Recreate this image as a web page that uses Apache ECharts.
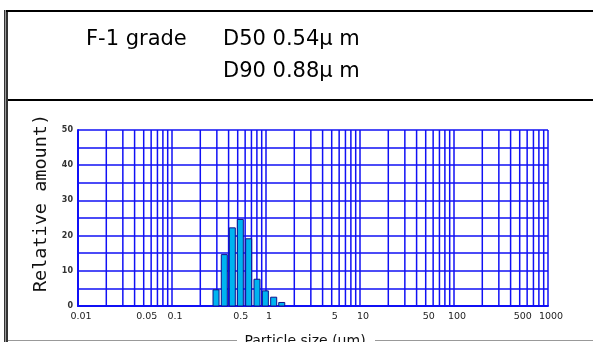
<!DOCTYPE html>
<html><head><meta charset="utf-8">
<script src="https://cdn.jsdelivr.net/npm/echarts@6/dist/echarts.min.js"></script>
<style>html,body{margin:0;padding:0;background:#fff}#c{width:593px;height:342px}</style>
</head><body><div id="c"></div>
<script>
// Particle size bin centres (µm) and relative amount per bin
const binCenters = [0.294, 0.360, 0.438, 0.533, 0.654, 0.802, 0.984, 1.207, 1.47];
const relAmount  = [4.6, 14.6, 22.2, 24.6, 19.1, 7.6, 4.3, 2.5, 1.0];
// Vertical log grid lines
const gridLinesX = [0.01,0.02,0.03,0.04,0.05,0.06,0.07,0.08,0.09,
  0.1,0.2,0.3,0.4,0.5,0.6,0.7,0.8,0.9,
  1,2,3,4,5,6,7,8,9,
  10,20,30,40,50,60,70,80,90,
  100,200,300,400,500,600,700,800,900,1000];
// Tick labels on the x axis
const xTickLabels = ['0.01','0.05','0.1','0.5','1','5','10','50','100','500','1000'];
const yMin = 0, yMax = 50;

const BLUE = '#1010f5';
const titleFont = {fontFamily:'DejaVu Sans', fontSize:21, fontWeight:'normal', color:'#000'};
const chart = echarts.init(document.getElementById('c'), null, {renderer:'canvas'});
chart.setOption({
  animation:false,
  backgroundColor:'#fff',
  title:[
    {text:'F-1 grade', left:81, top:24, textStyle:titleFont},
    {text:'D50 0.54μ m', left:218, top:24, textStyle:titleFont},
    {text:'D90 0.88μ m', left:218, top:56, textStyle:titleFont}
  ],
  graphic:[
    {type:'rect', shape:{x:4,y:10,width:4,height:332}, style:{fill:'#9a9a9a'}, silent:true},
    {type:'rect', shape:{x:4,y:10,width:1,height:332}, style:{fill:'#333'}, silent:true},
    {type:'rect', shape:{x:6,y:10,width:2,height:332}, style:{fill:'#333'}, silent:true},
    {type:'rect', shape:{x:6,y:10,width:587,height:2}, style:{fill:'#000'}, silent:true},
    {type:'rect', shape:{x:8,y:99,width:585,height:2}, style:{fill:'#000'}, silent:true},
    {type:'rect', shape:{x:8,y:340,width:229,height:1}, style:{fill:'#999'}, silent:true},
    {type:'rect', shape:{x:375,y:340,width:218,height:1}, style:{fill:'#999'}, silent:true}
  ],
  grid:{left:78, right:45, top:130, bottom:36, containLabel:false, outerBoundsMode:'none'},
  xAxis:{
    type:'log', logBase:10, min:0.01, max:1000,
    name:'Particle size (μm)', nameLocation:'middle', nameGap:28,
    nameTextStyle:{fontFamily:'DejaVu Sans', fontSize:14, color:'#111', padding:[0,16,0,0]},
    axisLine:{show:true, lineStyle:{color:BLUE, width:2}},
    axisTick:{show:false}, axisLabel:{show:false}, splitLine:{show:false}
  },
  yAxis:{
    type:'value', min:yMin, max:yMax, interval:10,
    name:'Relative amount)', nameLocation:'middle', nameRotate:90, nameGap:23,
    nameTextStyle:{fontFamily:'DejaVu Sans Mono', fontSize:18.5, color:'#111', padding:[0,0,0,30]},
    axisLine:{show:true, lineStyle:{color:BLUE, width:2}},
    axisTick:{show:false},
    axisLabel:{margin:5, fontFamily:'DejaVu Sans', fontSize:8, fontWeight:'bold', color:'#333'},
    splitLine:{show:true, lineStyle:{color:BLUE, width:1.5}},
    minorTick:{show:false, splitNumber:2},
    minorSplitLine:{show:true, lineStyle:{color:BLUE, width:1.5}}
  },
  series:[
    {
      type:'custom', name:'grid', silent:true, z:1,
      data: gridLinesX.map(v => [v]),
      renderItem:(params, api) => {
        const v = api.value(0);
        const p0 = api.coord([v, yMin]), p1 = api.coord([v, yMax]);
        return {type:'line', shape:{x1:p0[0], y1:p0[1], x2:p1[0], y2:p1[1]},
                style:{stroke:BLUE, lineWidth:1.5}};
      }
    },
    {
      type:'custom', name:'Relative amount', z:3,
      data: binCenters.map((c, i) => [c, relAmount[i]]),
      renderItem:(params, api) => {
        const c = api.value(0), v = api.value(1);
        const h = 0.032;
        const tl = api.coord([c * Math.pow(10, -h), v]);
        const br = api.coord([c * Math.pow(10, h), yMin]);
        return {type:'rect', shape:{x:tl[0], y:tl[1], width:br[0]-tl[0], height:br[1]-tl[1]},
                style:{fill:'#00b4f0', stroke:'#10108a', lineWidth:1}};
      }
    },
    {
      type:'custom', name:'xlabels', silent:true, z:4, clip:false,
      data: xTickLabels.map(s => [parseFloat(s)]),
      renderItem:(params, api) => {
        const v = api.value(0);
        const p = api.coord([v, yMin]);
        return {type:'text', x:p[0] + 3, y:p[1] + 6,
                style:{text:xTickLabels[params.dataIndex], align:'center', verticalAlign:'top',
                       font:'9.5px "DejaVu Sans"', fill:'#222'}};
      }
    }
  ]
});
</script></body></html>
